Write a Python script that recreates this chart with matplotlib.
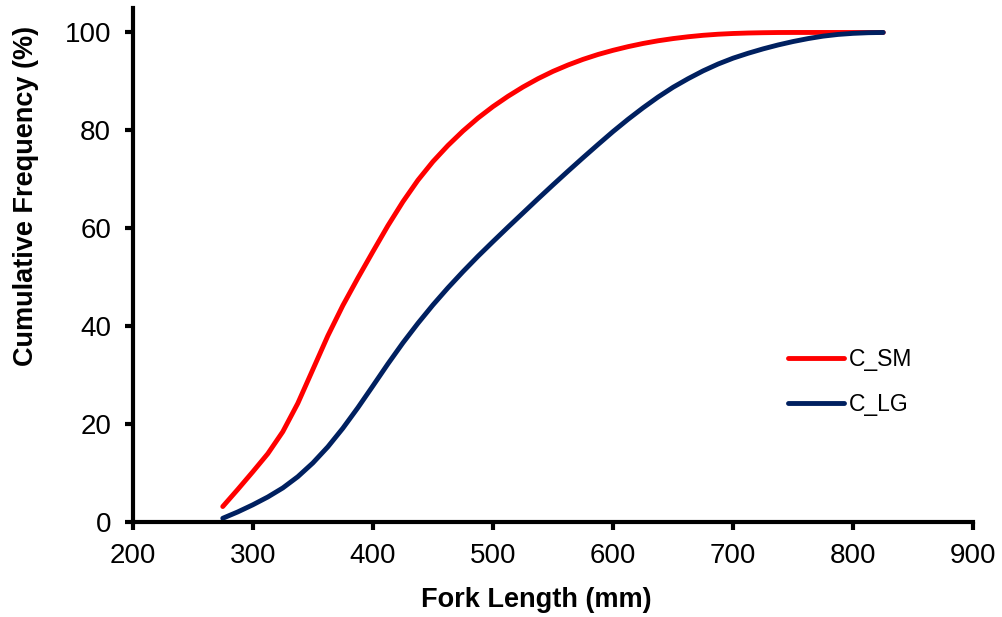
import matplotlib
matplotlib.use("Agg")
import matplotlib.pyplot as plt

plt.rcParams['font.family'] = ['Liberation Sans', 'DejaVu Sans']

# Data
fork_length = [275, 287.5, 300, 312.5, 325, 337.5, 350, 362.5, 375, 387.5, 400,
               412.5, 425, 437.5, 450, 462.5, 475, 487.5, 500, 512.5, 525, 537.5,
               550, 562.5, 575, 587.5, 600, 612.5, 625, 637.5, 650, 662.5, 675,
               687.5, 700, 712.5, 725, 737.5, 750, 762.5, 775, 787.5, 800, 812.5, 825]
c_sm = [3.1, 6.6, 10.2, 13.9, 18.4, 24.2, 31.1, 38.0, 44.2, 49.8, 55.2,
        60.5, 65.4, 69.8, 73.6, 76.9, 79.85, 82.5, 84.85, 86.95, 88.85, 90.55,
        92.05, 93.35, 94.5, 95.5, 96.35, 97.1, 97.75, 98.3, 98.75, 99.12, 99.42,
        99.64, 99.79, 99.89, 99.95, 99.99, 100.0, 100.0, 100.0, 100.0, 100.0, 100.0, 100.0]
c_lg = [0.7, 2.0, 3.45, 5.05, 6.9, 9.2, 12.0, 15.3, 19.1, 23.3, 27.75,
        32.25, 36.55, 40.55, 44.3, 47.8, 51.1, 54.25, 57.25, 60.2, 63.1, 66.0,
        68.85, 71.65, 74.4, 77.1, 79.75, 82.25, 84.6, 86.8, 88.8, 90.55, 92.15,
        93.55, 94.75, 95.75, 96.65, 97.45, 98.15, 98.75, 99.25, 99.6, 99.82, 99.95, 100.0]
series_names = ["C_SM", "C_LG"]
x_ticks = [200, 300, 400, 500, 600, 700, 800, 900]
y_ticks = [0, 20, 40, 60, 80, 100]

W, H = 1002, 617
fig = plt.figure(figsize=(W / 100, H / 100), dpi=100)
left, right, top, bottom = 132.7, 973.3, 8.0, 521.7
ax = fig.add_axes([left / W, (H - bottom) / H, (right - left) / W, (bottom - top) / H])

ax.plot(fork_length, c_sm, color='#FF0000', lw=3.5, solid_capstyle='round',
        solid_joinstyle='round', label=series_names[0])
ax.plot(fork_length, c_lg, color='#002060', lw=3.5, solid_capstyle='round',
        solid_joinstyle='round', label=series_names[1])

ax.set_xlim(200, 900)
ax.set_ylim(0, 105)
ax.set_xticks(x_ticks)
ax.set_yticks(y_ticks)

for s in ['top', 'right']:
    ax.spines[s].set_visible(False)
for s in ['left', 'bottom']:
    ax.spines[s].set_linewidth(3.0)
    ax.spines[s].set_capstyle('projecting')

ax.tick_params(axis='both', direction='out', length=6, width=3.0,
               labelsize=20, pad=9.5, colors='black')

ax.set_xlabel("Fork Length (mm)", fontsize=19.5, fontweight='bold')
ax.set_ylabel("Cumulative Frequency (%)", fontsize=19.5, fontweight='bold')
xl = ax.xaxis.label
xl.set_va('baseline')
ax.xaxis.set_label_coords((536.7 - left) / (right - left), -(606.7 - bottom) / (bottom - top))
yl = ax.yaxis.label
yl.set_va('baseline')
ax.yaxis.set_label_coords((33.3 - left) / (right - left), (bottom - 196) / (bottom - top))

leg = ax.legend(loc='upper left', bbox_to_anchor=(788 / W, (H - 348) / H),
                bbox_transform=fig.transFigure, frameon=False, fontsize=16.5,
                handlelength=2.45, handletextpad=0.22, labelspacing=0.97,
                borderpad=0, borderaxespad=0)

fig.savefig("out.png", dpi=100)
